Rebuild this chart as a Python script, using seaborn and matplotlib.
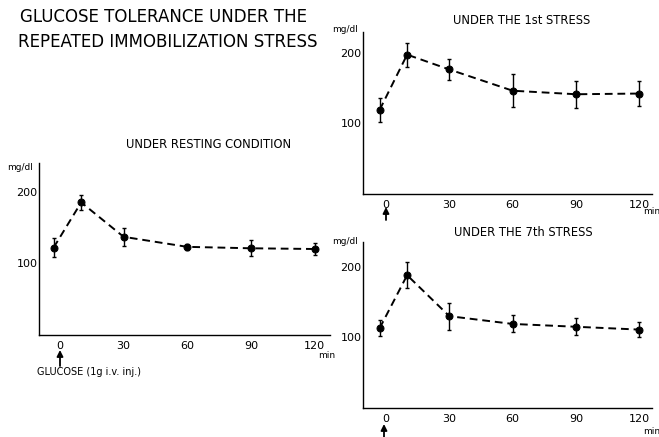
import matplotlib
matplotlib.use("Agg")
import matplotlib.pyplot as plt
import seaborn as sns
import pandas as pd

# ---- data ----
times = [-3, 10, 30, 60, 90, 120]
rest_mean = [122, 185, 137, 123, 121, 120]
rest_err = [13, 10, 13, 4, 11, 9]
stress1_mean = [119, 197, 176, 146, 141, 142]
stress1_err = [17, 17, 15, 23, 19, 18]
stress7_mean = [113, 188, 130, 119, 115, 111]
stress7_err = [11, 18, 19, 12, 12, 11]
xtick_vals = [0, 30, 60, 90, 120]
xtick_labels = ["0", "30", "60", "90", "120"]
ytick_vals = [100, 200]
ytick_labels = ["100", "200"]

sns.set_theme(style="white")
plt.rcParams["font.family"] = ["DejaVu Sans"]
plt.rcParams["text.color"] = "black"
plt.rcParams["xtick.color"] = "black"
plt.rcParams["ytick.color"] = "black"

W, H = 659, 437
fig = plt.figure(figsize=(W / 100, H / 100), dpi=100)
fig.patch.set_facecolor("white")


def fx(px):
    return px / W


def fy(py):
    return 1 - py / H


def make_axes(x0, y0, x1, y1):
    return fig.add_axes([fx(x0), fy(y1), (x1 - x0) / W, (y1 - y0) / H])


def draw(ax, mean, err, xlim, ylim):
    df = pd.DataFrame({"t": times, "v": mean})
    ax.errorbar(times, mean, yerr=err, fmt="none", ecolor="black",
                elinewidth=1.0, capsize=1.5, capthick=1.0, zorder=2)
    sns.lineplot(data=df, x="t", y="v", ax=ax, color="black",
                 linestyle=(0, (4, 2.5)), linewidth=1.4, marker="o",
                 markersize=5, markeredgecolor="black", zorder=3)
    ax.set_xlim(*xlim)
    ax.set_ylim(*ylim)
    ax.set_xticks(xtick_vals)
    ax.set_xticklabels(xtick_labels, fontsize=8)
    ax.set_yticks(ytick_vals)
    ax.set_yticklabels(ytick_labels, fontsize=8)
    ax.tick_params(axis="both", length=0, colors="black")
    ax.tick_params(axis="x", pad=4)
    ax.tick_params(axis="y", pad=1)
    ax.set_xlabel("")
    ax.set_ylabel("")
    for s in ["top", "right"]:
        ax.spines[s].set_visible(False)
    for s in ["left", "bottom"]:
        ax.spines[s].set_color("black")
        ax.spines[s].set_linewidth(1.0)
    ax.set_facecolor("white")


ax1 = make_axes(39, 163, 330, 335)
draw(ax1, rest_mean, rest_err, (-9.9, 127.3), (0, 240))
ax2 = make_axes(363, 32, 652, 194)
draw(ax2, stress1_mean, stress1_err, (-10.9, 126), (0, 229))
ax3 = make_axes(363, 242, 652, 408)
draw(ax3, stress7_mean, stress7_err, (-10.9, 126), (0, 235))

# titles
fig.text(fx(20), fy(17), "GLUCOSE TOLERANCE UNDER THE", fontsize=12,
         ha="left", va="center")
fig.text(fx(18), fy(42), "REPEATED IMMOBILIZATION STRESS", fontsize=12,
         ha="left", va="center")
fig.text(fx(209), fy(145), "UNDER RESTING CONDITION", fontsize=8.3,
         ha="center", va="center")
fig.text(fx(522), fy(20), "UNDER THE 1st STRESS", fontsize=8.3,
         ha="center", va="center")
fig.text(fx(523), fy(233), "UNDER THE 7th STRESS", fontsize=8.3,
         ha="center", va="center")

# unit labels
for (x, y) in [(7, 168), (332, 29), (332, 242)]:
    fig.text(fx(x), fy(y), "mg/dl", fontsize=6.5, ha="left", va="center")
for (x, y) in [(318, 356), (643, 212), (643, 431)]:
    fig.text(fx(x), fy(y), "min", fontsize=6.5, ha="left", va="center")

# arrows
for (x, y0, y1) in [(60, 366, 350), (386, 220, 207), (384, 438, 424)]:
    fig.add_artist(matplotlib.patches.FancyArrowPatch(
        (fx(x), fy(y0)), (fx(x), fy(y1)), transform=fig.transFigure,
        arrowstyle="-|>", mutation_scale=9, color="black", linewidth=1.3,
        shrinkA=0, shrinkB=0))

fig.text(fx(37), fy(372), "GLUCOSE (1g i.v. inj.)", fontsize=7,
         ha="left", va="center")

fig.savefig("out.png", dpi=100, facecolor="white")
